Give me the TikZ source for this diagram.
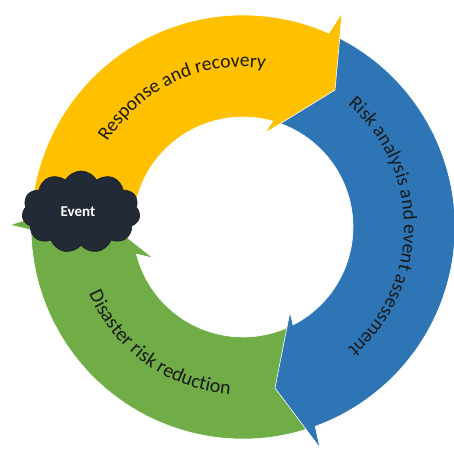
\documentclass[tikz,border=0pt]{standalone}
\usepackage{fontspec}
\setmainfont{Carlito}
\usetikzlibrary{shapes.symbols,decorations.text}
\definecolor{ycol}{HTML}{FFC000}
\definecolor{bcol}{HTML}{2E75B6}
\definecolor{gcol}{HTML}{70AD47}
\definecolor{ccol}{HTML}{222A35}
\definecolor{tcol}{HTML}{1A1A1A}
\begin{document}
\begin{tikzpicture}[x=1pt,y=1pt,
  band/.style={draw=white, line width=0.6pt, line join=miter},
  arctext/.style={decorate, decoration={text along path, text align=center, text color=tcol, text={#1}}}]
\useasboundingbox (0,0) rectangle (454,451);
\begin{scope}[shift={(243,224)}]
  % green arrow (disaster risk reduction)
  \filldraw[band, fill=gcol] (-66:212pt) arc[start angle=-66, end angle=-179.2, radius=212pt]
    -- (-233,2) -- (-161,25.5) -- (-90,-31)
    -- (-165.7:110pt) arc[start angle=-165.7, end angle=-66, radius=110pt] -- cycle;
  % blue arrow (risk analysis)
  \filldraw[band, fill=bcol] (72:212pt) arc[start angle=72, end angle=-70.1, radius=212pt]
    -- (77,-221) -- (32,-161) -- (47,-85)
    -- (-63:110pt) arc[start angle=-63, end angle=72, radius=110pt] -- cycle;
  % yellow arrow (response and recovery)
  \filldraw[band, fill=ycol] (176:212pt) arc[start angle=176, end angle=66.1, radius=212pt]
    -- (99,214) -- (92,137) -- (22,94)
    -- (74.3:110pt) arc[start angle=74.3, end angle=176, radius=110pt] -- cycle;
  % curved labels
  \path[arctext={|\fontsize{19.5}{19.5}\selectfont|Response and recovery}]
    (175:160pt) arc[start angle=175, end angle=55, radius=160pt];
  \path[arctext={|\fontsize{19.5}{19.5}\selectfont|Risk analysis and event assessment}]
    (62:161pt) arc[start angle=62, end angle=-62, radius=161pt];
  \path[arctext={|\fontsize{20}{20}\selectfont|Disaster risk reduction}]
    (175:168pt) arc[start angle=175, end angle=294, radius=168pt];
\end{scope}
\node[cloud, cloud puffs=11, cloud puff arc=120, cloud ignores aspect,
  minimum width=118pt, minimum height=82pt, fill=ccol, draw=ccol!70!black,
  line width=0.6pt, text=white, font=\bfseries\fontsize{15}{15}\selectfont,
  inner sep=0pt] (event) at (81,239) {\hspace*{-6pt}Event};
\end{tikzpicture}
\end{document}
